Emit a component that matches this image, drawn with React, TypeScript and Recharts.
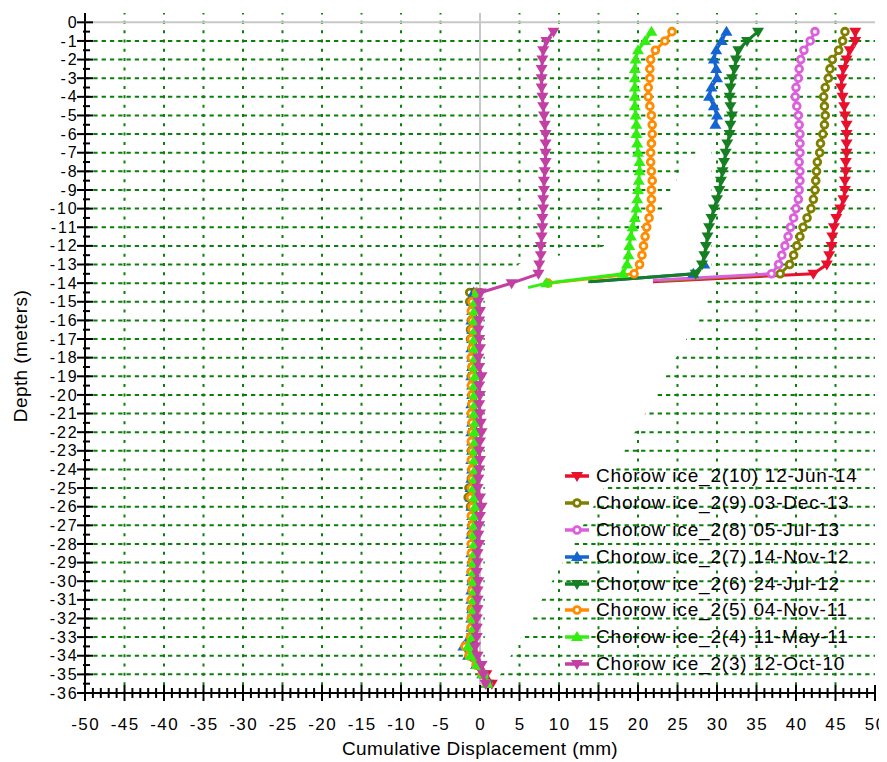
import React from 'react';
import { ScatterChart, Scatter, XAxis, YAxis, CartesianGrid, Legend, Label } from 'recharts';

const FONT = '"Liberation Sans", Arial, sans-serif';
const CHART_W = 879;
const CHART_H = 754;
const GRID_GREEN = '#0a800a';

// ---- depth stations (m) ----
const upperDepths = [-0.5, -1, -1.5, -2, -2.5, -3, -3.5, -4, -4.5, -5, -5.5, -6, -6.5, -7, -7.5, -8, -8.5, -9, -9.5, -10, -10.5, -11, -11.5, -12, -12.5, -13, -13.5];
const lowerDepths = [-14.5, -15, -15.5, -16, -16.5, -17, -17.5, -18, -18.5, -19, -19.5, -20, -20.5, -21, -21.5, -22, -22.5, -23, -23.5, -24, -24.5, -25, -25.5, -26, -26.5, -27, -27.5, -28, -28.5, -29, -29.5, -30, -30.5, -31, -31.5, -32, -32.5, -33, -33.5, -34, -34.5, -35, -35.5];
const blueUpperDepths = [-0.5, -1, -1.5, -2, -2.5, -3, -3.5, -4, -4.5, -5, -5.5];

// ---- cumulative displacement (mm) ----
const red10Upper = [47.5, 47.5, 46.8, 46.4, 46.0, 45.8, 45.7, 45.9, 46.1, 46.2, 46.4, 46.4, 46.4, 46.4, 46.3, 46.3, 46.2, 46.2, 46.0, 45.6, 45.1, 44.8, 44.6, 44.5, 44.2, 43.9, 42.2];
const red10Lower = [-0.4, -0.5, -0.5, -0.6, -0.5, -0.5, -0.6, -0.5, -0.5, -0.6, -0.5, -0.5, -0.6, -0.5, -0.5, -0.6, -0.5, -0.5, -0.6, -0.5, -0.5, -0.6, -0.6, -0.5, -0.5, -0.6, -0.5, -0.6, -0.5, -0.6, -0.6, -0.5, -0.6, -0.6, -0.5, -0.6, -0.6, -0.7, -0.9, -0.6, 0.1, 0.8, 1.5];

const olive9Upper = [46.2, 45.9, 45.4, 44.6, 44.3, 44.1, 43.7, 43.5, 43.6, 43.7, 43.6, 43.4, 43.1, 43.0, 42.7, 42.6, 42.5, 42.4, 42.2, 41.9, 41.4, 40.9, 40.5, 40.1, 39.7, 39.2, 38.0];
const olive9Lower = [-1.3, -1.3, -1.0, -1.1, -1.2, -1.2, -1.0, -1.0, -1.0, -1.1, -1.0, -1.0, -1.0, -1.1, -1.0, -1.0, -1.0, -1.1, -1.0, -1.0, -1.1, -1.4, -1.5, -1.2, -1.0, -1.0, -1.1, -1.0, -1.0, -1.0, -1.1, -1.0, -1.0, -1.0, -1.1, -1.0, -1.1, -1.2, -1.6, -1.3, -0.4, 0.3, 0.9];

const pink8Upper = [42.4, 41.8, 41.0, 40.6, 40.4, 40.3, 40.0, 39.9, 40.1, 40.3, 40.4, 40.5, 40.5, 40.5, 40.4, 40.5, 40.5, 40.4, 40.3, 40.0, 39.7, 39.3, 39.0, 38.6, 38.2, 37.8, 36.9];
const pink8Lower = [-0.6, -0.8, -0.8, -0.7, -0.8, -0.8, -0.7, -0.8, -0.8, -0.7, -0.8, -0.8, -0.7, -0.8, -0.8, -0.7, -0.8, -0.8, -0.7, -0.8, -0.8, -0.9, -0.9, -0.8, -0.8, -0.7, -0.8, -0.8, -0.7, -0.8, -0.8, -0.8, -0.8, -0.9, -0.8, -0.8, -0.9, -1.0, -1.4, -1.1, -0.2, 0.5, 1.0];

const blue7Upper = [31.2, 30.6, 29.9, 29.6, 29.9, 30.0, 29.3, 29.0, 29.6, 30.0, 29.8];
const blue7Mid = [28.4, 27.0];
const blue7MidDepths = [-13, -13.5];
const blue7Lower = [-0.8, -1.0, -1.0, -1.1, -1.0, -1.0, -1.1, -1.0, -1.0, -1.1, -1.0, -1.0, -1.1, -1.0, -1.0, -1.1, -1.0, -1.0, -1.1, -1.0, -1.1, -1.2, -1.2, -1.1, -1.0, -1.0, -1.1, -1.0, -1.1, -1.0, -1.1, -1.0, -1.1, -1.1, -1.0, -1.1, -1.1, -1.3, -2.1, -1.5, -0.5, 0.3, 0.8];

const darkGreen6Upper = [35.2, 33.8, 32.7, 32.4, 32.2, 31.9, 31.7, 31.6, 31.7, 31.9, 31.7, 31.6, 31.3, 31.1, 30.9, 30.7, 30.5, 30.3, 30.0, 29.6, 29.3, 29.0, 28.8, 28.6, 28.4, 28.1, 27.3];
const darkGreen6Lower = [-0.5, -0.8, -0.8, -0.7, -0.8, -0.8, -0.7, -0.8, -0.7, -0.8, -0.8, -0.7, -0.8, -0.8, -0.7, -0.8, -0.7, -0.8, -0.8, -0.7, -0.8, -0.9, -0.9, -0.8, -0.7, -0.8, -0.8, -0.7, -0.8, -0.8, -0.8, -0.7, -0.8, -0.8, -0.8, -0.9, -0.8, -1.0, -1.6, -1.2, -0.3, 0.4, 1.0];

const orange5Upper = [24.3, 23.4, 22.2, 21.6, 21.5, 21.5, 21.3, 21.3, 21.5, 21.7, 21.8, 21.8, 21.7, 21.6, 21.6, 21.7, 21.8, 21.7, 21.7, 21.6, 21.4, 21.1, 20.9, 20.7, 20.5, 20.2, 19.5];
const orange5Lower = [-0.4, -1.0, -1.1, -1.0, -1.0, -1.1, -1.0, -1.1, -1.0, -1.0, -1.1, -1.0, -1.0, -1.1, -1.0, -1.0, -1.1, -1.0, -1.1, -1.0, -1.0, -1.1, -1.2, -1.0, -1.1, -1.0, -1.0, -1.1, -1.1, -1.0, -1.1, -1.0, -1.0, -1.1, -1.0, -1.1, -1.1, -1.2, -1.9, -1.4, -0.5, 0.3, 0.8];

const green4Upper = [21.7, 20.9, 20.0, 19.7, 19.6, 19.6, 19.6, 19.6, 19.6, 19.7, 19.8, 19.8, 19.9, 20.0, 20.2, 20.2, 20.1, 20.0, 19.9, 19.8, 19.6, 19.3, 19.1, 18.9, 18.8, 18.6, 18.1];
const green4Lower = [-0.4, -0.6, -0.7, -0.7, -0.6, -0.7, -0.7, -0.6, -0.7, -0.6, -0.7, -0.7, -0.6, -0.7, -0.6, -0.7, -0.6, -0.7, -0.7, -0.6, -0.7, -0.8, -0.7, -0.6, -0.7, -0.7, -0.8, -0.7, -0.7, -0.8, -0.8, -0.8, -0.7, -0.8, -0.8, -0.9, -0.8, -1.0, -1.5, -1.2, -0.4, 0.4, 0.9];

const purple3Upper = [9.3, 8.4, 8.0, 7.9, 7.8, 7.8, 7.8, 7.9, 8.0, 8.1, 8.2, 8.3, 8.3, 8.3, 8.3, 8.2, 8.1, 8.1, 8.0, 8.0, 7.9, 7.9, 7.8, 7.7, 7.7, 7.5, 7.4];
const purple3Lower = [0.1, -0.2, 0.0, -0.1, -0.2, -0.1, 0.0, -0.2, -0.1, 0.2, -0.1, 0.0, -0.1, 0.0, 0.1, 0.2, 0.0, -0.1, 0.0, -0.1, -0.2, -0.3, 0.0, 0.2, 0.0, -0.1, -0.2, -0.1, -0.3, -0.3, -0.4, -0.2, -0.3, -0.3, -0.3, -0.4, -0.4, -0.4, -0.6, -0.3, 0.2, 0.4, 0.7];

// readings at the -14 m station that stay visible
const orange5At14 = { x: 8.6, y: -14 };
const green4At14 = { x: 8.4, y: -14 };
const purple3At14 = { x: 4.0, y: -14 };

// where each upper polyline fades out below -13.5 m
const red10Tail = { x: 21.9, y: -13.92 };
const olive9Tail = { x: 22.6, y: -13.88 };
const pink8Tail = { x: 21.9, y: -13.85 };
const blue7Tail = { x: 14.0, y: -13.92 };
const darkGreen6Tail = { x: 13.7, y: -13.93 };
const green4Tail = { x: 6.1, y: -14.24 };

// blank (unfilled) zone of the plot background
const blankZoneX = [29.3, 29.3, 30.0, 2.2, 0.6, 0.6, 4.0, 5.0, 15.5, 20.5, 23.5, 25.3, 27.5];
const blankZoneDepth = [-6.5, -13.9, -14.05, -35.3, -35.3, -14.5, -13.5, -12.95, -12.05, -11.0, -10.0, -8.0, -7.0];

// ---- axes ----
const xLabelTicks = [-50, -45, -40, -35, -30, -25, -20, -15, -10, -5, 0, 5, 10, 15, 20, 25, 30, 35, 40, 45, 50];
const yLabelTicks = [0, -1, -2, -3, -4, -5, -6, -7, -8, -9, -10, -11, -12, -13, -14, -15, -16, -17, -18, -19, -20, -21, -22, -23, -24, -25, -26, -27, -28, -29, -30, -31, -32, -33, -34, -35, -36];
const xAllTicks = Array.from({ length: 101 }, (_, i) => -50 + i);
const yAllTicks = Array.from({ length: 73 }, (_, i) => -i / 2);
const hGridValues = yLabelTicks.filter((v) => v !== 0 && v !== -36);
const vGridValues = xLabelTicks.filter((v) => v !== 0 && Math.abs(v) !== 50);

type Pt = { x: number; y: number; tail?: boolean };
type MarkerKind = 'down' | 'up' | 'circle';

const withDepths = (xs: number[], ds: number[]): Pt[] => xs.map((x, i) => ({ x, y: ds[i] }));
const tailOf = (p: { x: number; y: number }): Pt => ({ ...p, tail: true });

interface SeriesDef {
  id: string;
  name: string;
  color: string;
  marker: MarkerKind;
  segments: Pt[][];
}

const seriesList: SeriesDef[] = [
  {
    id: 's10', name: 'Chorow ice_2(10) 12-Jun-14', color: '#e8102c', marker: 'down',
    segments: [[...withDepths(red10Upper, upperDepths), tailOf(red10Tail)], withDepths(red10Lower, lowerDepths)],
  },
  {
    id: 's9', name: 'Chorow ice_2(9) 03-Dec-13', color: '#808000', marker: 'circle',
    segments: [[...withDepths(olive9Upper, upperDepths), tailOf(olive9Tail)], withDepths(olive9Lower, lowerDepths)],
  },
  {
    id: 's8', name: 'Chorow ice_2(8) 05-Jul-13', color: '#dc5fdc', marker: 'circle',
    segments: [[...withDepths(pink8Upper, upperDepths), tailOf(pink8Tail)], withDepths(pink8Lower, lowerDepths)],
  },
  {
    id: 's7', name: 'Chorow ice_2(7) 14-Nov-12', color: '#1464d2', marker: 'up',
    segments: [
      withDepths(blue7Upper, blueUpperDepths),
      [...withDepths(blue7Mid, blue7MidDepths), tailOf(blue7Tail)],
      withDepths(blue7Lower, lowerDepths),
    ],
  },
  {
    id: 's6', name: 'Chorow ice_2(6) 24-Jul-12', color: '#157f22', marker: 'down',
    segments: [[...withDepths(darkGreen6Upper, upperDepths), tailOf(darkGreen6Tail)], withDepths(darkGreen6Lower, lowerDepths)],
  },
  {
    id: 's5', name: 'Chorow ice_2(5) 04-Nov-11', color: '#ff8c00', marker: 'circle',
    segments: [[...withDepths(orange5Upper, upperDepths), orange5At14], withDepths(orange5Lower, lowerDepths)],
  },
  {
    id: 's4', name: 'Chorow ice_2(4) 11-May-11', color: '#33ee11', marker: 'up',
    segments: [[...withDepths(green4Upper, upperDepths), green4At14, tailOf(green4Tail)], withDepths(green4Lower, lowerDepths)],
  },
  {
    id: 's3', name: 'Chorow ice_2(3) 12-Oct-10', color: '#c23fa3', marker: 'down',
    segments: [[...withDepths(purple3Upper, upperDepths), purple3At14, ...withDepths(purple3Lower, lowerDepths)]],
  },
];

const blankZone = withDepths(blankZoneX, blankZoneDepth);
const zeroDepthLine: Pt[] = [{ x: -50, y: 0 }, { x: 50, y: 0 }];
const zeroDispLine: Pt[] = [{ x: 0, y: 0.5 }, { x: 0, y: -36 }];

function MarkerGlyph({ cx, cy, kind, color }: { cx: number; cy: number; kind: MarkerKind; color: string }) {
  if (kind === 'circle') {
    return <circle cx={cx} cy={cy} r={3.4} fill="#ffffff" stroke={color} strokeWidth={2.8} />;
  }
  if (kind === 'down') {
    return <polygon points={`${cx - 6},${cy - 4} ${cx + 6},${cy - 4} ${cx},${cy + 6}`} fill={color} />;
  }
  return <polygon points={`${cx - 6},${cy + 4} ${cx + 6},${cy + 4} ${cx},${cy - 6}`} fill={color} />;
}

const NoMarker = () => <g />;

function FilledOutline(props: any) {
  const pts: { x: number; y: number }[] = props.points || [];
  if (!pts.length) return <g />;
  const d = pts.map((p, i) => `${i ? 'L' : 'M'}${p.x},${p.y}`).join('') + 'Z';
  return <path d={d} fill="#ffffff" stroke="none" />;
}

const yTickText = { fontFamily: FONT, fontSize: 16, letterSpacing: 1.9, fill: '#000' };
const xTickText = { fontFamily: FONT, fontSize: 17, letterSpacing: 1.5, fill: '#000' };

function LeftTick(props: any) {
  const { x, y, payload } = props;
  const v = payload.value as number;
  const major = Number.isInteger(v);
  return (
    <g>
      <line x1={x - (major ? 8 : 2)} x2={x + (major ? 8 : 5)} y1={y} y2={y} stroke="#000" strokeWidth={2} />
      {major && (
        <text x={x - 6.5} y={y} dy="0.35em" textAnchor="end" style={yTickText}>
          {String(v)}
        </text>
      )}
    </g>
  );
}

function RightTick(props: any) {
  const { x, y, payload } = props;
  const major = Number.isInteger(payload.value);
  return <line x1={x - (major ? 12 : 6)} x2={x + (major ? 2 : 0)} y1={y} y2={y} stroke="#000" strokeWidth={2} />;
}

function BottomTick(props: any) {
  const { x, y, payload } = props;
  const v = payload.value as number;
  const major = v % 5 === 0;
  return (
    <g>
      <line x1={x} x2={x} y1={y - (major ? 8 : 5)} y2={y + (major ? 8 : 5)} stroke="#000" strokeWidth={2} />
      {major && (
        <text x={x + 0.75} y={y + 31} dy="0.35em" textAnchor="middle" style={xTickText}>
          {String(v)}
        </text>
      )}
    </g>
  );
}

function TopTick(props: any) {
  const { x, y, payload } = props;
  const major = payload.value % 5 === 0;
  return <line x1={x} x2={x} y1={y} y2={y + (major ? 8 : 4.5)} stroke="#000" strokeWidth={2} />;
}

const titleStyle = { fontFamily: FONT, fontSize: 19, letterSpacing: 0.4, fill: '#000' };

function XTitle(props: any) {
  const vb = props.viewBox || { x: 0, y: 0, width: 0, height: 0 };
  return (
    <text x={vb.x + vb.width / 2} y={vb.y + 55} dy="0.35em" textAnchor="middle" style={titleStyle}>
      Cumulative Displacement (mm)
    </text>
  );
}

function YTitle(props: any) {
  const vb = props.viewBox || { x: 0, y: 0, width: 0, height: 0 };
  const cx = vb.x + 12;
  const cy = vb.y + vb.height / 2 + 3;
  return (
    <text x={cx} y={cy} dy="0.35em" textAnchor="middle" transform={`rotate(-90 ${cx} ${cy})`} style={titleStyle}>
      Depth (meters)
    </text>
  );
}

function LegendBox() {
  return (
    <div style={{ fontFamily: FONT, fontSize: 19, letterSpacing: 0.8, color: '#000' }}>
      {seriesList.map((s) => (
        <div key={s.id} style={{ display: 'flex', alignItems: 'center', height: 26.9, whiteSpace: 'nowrap' }}>
          <svg width={24} height={14} style={{ marginRight: 7, flex: 'none' }}>
            <line x1={0} y1={7} x2={24} y2={7} stroke={s.color} strokeWidth={3.5} />
            <MarkerGlyph cx={12} cy={7} kind={s.marker} color={s.color} />
          </svg>
          <span>{s.name}</span>
        </div>
      ))}
    </div>
  );
}

export default function App() {
  return (
    <ScatterChart width={CHART_W} height={CHART_H} margin={{ top: 5, right: 12, bottom: 0, left: 0 }}>
      <CartesianGrid
        vertical={false}
        horizontalValues={hGridValues}
        stroke={GRID_GREEN}
        strokeWidth={2}
        strokeDasharray="4.3 4"
      />
      <CartesianGrid
        horizontal={false}
        verticalValues={vGridValues}
        stroke={GRID_GREEN}
        strokeWidth={2}
        strokeDasharray="3 6.315"
        strokeDashoffset={1.5}
      />
      <XAxis
        xAxisId={0}
        dataKey="x"
        type="number"
        domain={[-50, 50]}
        ticks={xAllTicks}
        interval={0}
        tickSize={0}
        tickMargin={0}
        tickLine={false}
        axisLine={{ stroke: '#000', strokeWidth: 2 }}
        tick={BottomTick}
        height={69}
      >
        <Label content={XTitle} />
      </XAxis>
      <XAxis
        xAxisId="top"
        orientation="top"
        dataKey="x"
        type="number"
        domain={[-50, 50]}
        ticks={xAllTicks}
        interval={0}
        tickSize={0}
        tickMargin={0}
        tickLine={false}
        axisLine={{ stroke: '#000', strokeWidth: 2 }}
        tick={TopTick}
        height={0}
      />
      <YAxis
        yAxisId={0}
        dataKey="y"
        type="number"
        domain={[-36, 0.5]}
        ticks={yAllTicks}
        interval={0}
        tickSize={0}
        tickMargin={0}
        tickLine={false}
        axisLine={{ stroke: '#000', strokeWidth: 2 }}
        tick={LeftTick}
        width={77}
      >
        <Label content={YTitle} />
      </YAxis>
      <YAxis
        yAxisId="right"
        orientation="right"
        dataKey="y"
        type="number"
        domain={[-36, 0.5]}
        ticks={yAllTicks}
        interval={0}
        tickSize={0}
        tickMargin={0}
        tickLine={false}
        axisLine={{ stroke: '#000', strokeWidth: 2 }}
        tick={RightTick}
        width={0}
      />

      <Scatter data={zeroDepthLine} fill="#c8c8c8" line={{ stroke: '#c8c8c8', strokeWidth: 2 }} shape={NoMarker} isAnimationActive={false} legendType="none" />
      <Scatter data={zeroDispLine} fill="#c8c8c8" line={{ stroke: '#c8c8c8', strokeWidth: 2 }} shape={NoMarker} isAnimationActive={false} legendType="none" />
      <Scatter data={blankZone} fill="#ffffff" line={<FilledOutline />} shape={NoMarker} isAnimationActive={false} legendType="none" />

      {seriesList.flatMap((s) =>
        s.segments.map((seg, j) => (
          <Scatter
            key={`${s.id}-${j}`}
            data={seg}
            fill={s.color}
            line={{ stroke: s.color, strokeWidth: 3 }}
            lineJointType="linear"
            legendType="none"
            isAnimationActive={false}
            shape={(p: any) =>
              p.payload && p.payload.tail ? <g /> : <MarkerGlyph cx={p.cx} cy={p.cy} kind={s.marker} color={s.color} />
            }
          />
        ))
      )}

      <Legend
        layout="vertical"
        align="center"
        verticalAlign="middle"
        content={() => <LegendBox />}
        wrapperStyle={{ left: 557, top: 454.5, width: 'auto', height: 'auto', margin: 0 }}
      />
    </ScatterChart>
  );
}
